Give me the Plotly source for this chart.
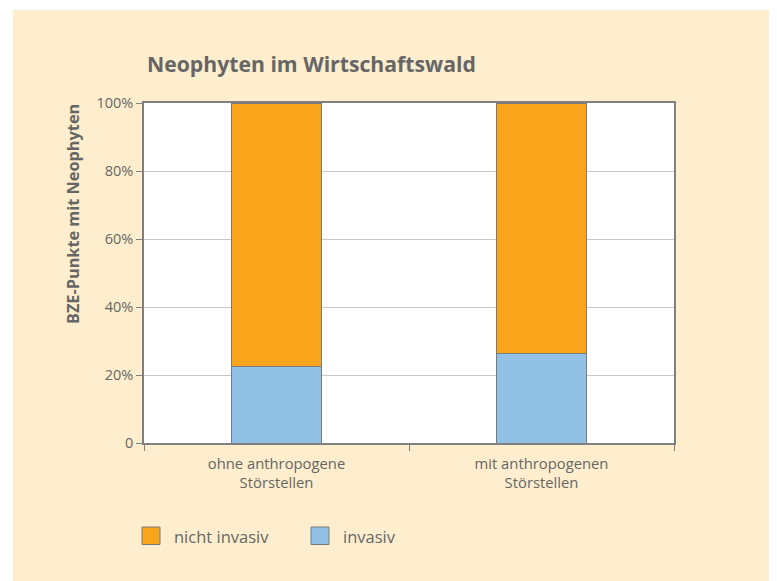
import plotly.graph_objects as go

categories = ["ohne anthropogene<br>Störstellen", "mit anthropogenen<br>Störstellen"]
invasiv = [22.4, 26.3]
nicht_invasiv = [77.6, 73.7]
ytick_vals = [0, 20, 40, 60, 80, 100]
ytick_text = ["0", "20%", "40%", "60%", "80%", "100%"]
legend_names = ["nicht invasiv", "invasiv"]

OFF = 8  # page body margin offset
W, H = 777, 581
# target plot area in screenshot coords: x 144..674, y 103..443
L = 144 - OFF
T = 103 - OFF
R = W - (674 - OFF)
B = H - (443 - OFF)
pw, ph = W - L - R, H - T - B

def px_x(x):  # screenshot x -> paper
    return (x - OFF - L) / pw

def px_y(y):  # screenshot y -> paper
    return (H - B - (y - OFF)) / ph

CREAM = "#FEEECD"
GRAY_TXT = "#666666"
FONT = "Open Sans"
ORANGE = "#F8A51B"
BLUE = "#92C1E6"
EDGE = "#7a7a7a"

fig = go.Figure()
fig.add_trace(go.Bar(x=categories, y=invasiv, name="invasiv", width=0.34,
                     marker=dict(color=BLUE, line=dict(color=EDGE, width=1))))
fig.add_trace(go.Bar(x=categories, y=nicht_invasiv, name="nicht invasiv", width=0.34,
                     marker=dict(color=ORANGE, line=dict(color=EDGE, width=1))))

shapes = [
    dict(type="rect", xref="paper", yref="paper", x0=px_x(-20), x1=px_x(13), y0=px_y(H + 40), y1=px_y(-20),
         fillcolor="white", line=dict(width=0), layer="below"),
    dict(type="rect", xref="paper", yref="paper", x0=px_x(-20), x1=px_x(W + 40), y0=px_y(10), y1=px_y(-20),
         fillcolor="white", line=dict(width=0), layer="below"),
]
annotations = [
    dict(text="<b>Neophyten im Wirtschaftswald</b>", xref="paper", yref="paper",
         x=px_x(145), y=px_y(80), xanchor="left", yanchor="bottom", showarrow=False,
         font=dict(family=FONT, size=21.2, color=GRAY_TXT)),
    dict(text="<b>BZE-Punkte mit Neophyten</b>", xref="paper", yref="paper",
         x=px_x(73), y=px_y(102), xanchor="center", yanchor="top", textangle=-90,
         showarrow=False, font=dict(family=FONT, size=16.3, color=GRAY_TXT)),
]
# custom legend
leg_items = [(legend_names[0], ORANGE, 142), (legend_names[1], BLUE, 311)]
for name, col, x0 in leg_items:
    shapes.append(dict(type="rect", xref="paper", yref="paper",
                       x0=px_x(x0), x1=px_x(x0 + 18), y0=px_y(544.5), y1=px_y(527),
                       fillcolor=col, line=dict(color=EDGE, width=1)))
    annotations.append(dict(text=name, xref="paper", yref="paper", x=px_x(x0 + 30), y=px_y(536),
                            xanchor="left", yanchor="middle", showarrow=False,
                            font=dict(family=FONT, size=16.5, color=GRAY_TXT)))

fig.update_layout(
    width=W, height=H,
    margin=dict(l=L, r=R, t=T, b=B),
    paper_bgcolor=CREAM, plot_bgcolor="white",
    barmode="stack",
    font=dict(family=FONT, color=GRAY_TXT, size=14),
    showlegend=False,
    xaxis=dict(type="category", showline=True, linecolor="#808080", linewidth=1.5, mirror=True,
               ticks="outside", tickson="boundaries", ticklen=6, tickcolor="#808080",
               showgrid=False, ticklabelstandoff=6, tickfont=dict(size=14.8, color=GRAY_TXT)),
    yaxis=dict(range=[0, 100], tickvals=ytick_vals, ticktext=ytick_text,
               showline=True, linecolor="#808080", linewidth=1.5, mirror=True,
               ticks="outside", ticklen=6, tickcolor="#808080",
               showgrid=True, gridcolor="#c8c8c8", gridwidth=1.3, zeroline=False,
               tickfont=dict(size=14.5, color=GRAY_TXT)),
    shapes=shapes,
    annotations=annotations,
)

fig.write_html("out.html")
